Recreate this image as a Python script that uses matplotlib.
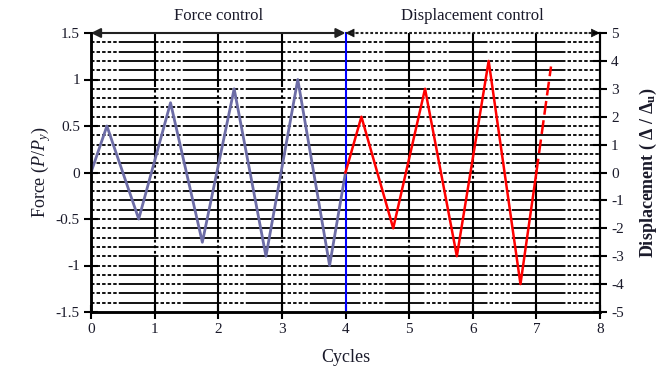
import matplotlib
matplotlib.use("Agg")
import matplotlib.pyplot as plt
import numpy as np

# ---- data ----
force_x = [0, 0.25, 0.75, 1.25, 1.75, 2.25, 2.75, 3.25, 3.75, 4.0]
force_y = [0, 0.5, -0.5, 0.75, -0.75, 0.9, -0.9, 1.0, -1.0, 0.0]
disp_x = [4.0, 4.25, 4.75, 5.25, 5.75, 6.25, 6.75, 7.0]
disp_y = [0, 2, -2, 3, -3, 4, -4, 0]
disp_dash_x = [7.0, 7.23]
disp_dash_y = [0, 3.8]
x_ticks = [0, 1, 2, 3, 4, 5, 6, 7, 8]
force_ticks = [-1.5, -1, -0.5, 0, 0.5, 1, 1.5]
force_ticklabels = ["-1.5", "-1", "-0.5", "0", "0.5", "1", "1.5"]
disp_ticks = [-5, -4, -3, -2, -1, 0, 1, 2, 3, 4, 5]

plt.rcParams['font.family'] = ['Liberation Serif', 'DejaVu Serif']
plt.rcParams['mathtext.fontset'] = 'custom'
plt.rcParams['mathtext.rm'] = 'Liberation Serif'
plt.rcParams['mathtext.it'] = 'Liberation Serif:italic'
plt.rcParams['mathtext.bf'] = 'Liberation Serif:bold'
plt.rcParams['lines.scale_dashes'] = False

fig = plt.figure(figsize=(6.63, 3.72), dpi=100)
ax = fig.add_axes([91/663, 1-312/372, (600-91)/663, (312-33)/372])
ax.set_xlim(0, 8)
ax.set_ylim(-1.5, 1.5)

txtc = '#1a1a2a'
dot = (0, (2.5, 1.5))

# horizontal grid lines (mixed solid / dotted segments)
levels = np.round(np.arange(-1.4, 1.45, 0.1), 2)
for k in range(8):
    if k < 4:
        segs = [(k, k + 0.45, dot), (k + 0.45, k + 1, '-')]
    elif k < 7:
        segs = [(k, k + 0.18, '-'), (k + 0.18, k + 0.65, dot), (k + 0.65, k + 1, '-')]
    else:
        segs = [(k, k + 0.4, '-'), (k + 0.4, k + 1, dot)]
    for a, b, ls in segs:
        ax.hlines(levels, a, b, colors='black', linewidth=1.3, linestyles=[ls], zorder=1)

# vertical grid lines
for xv in [1, 2, 3, 5, 6, 7]:
    ax.plot([xv, xv], [-1.5, 1.5], color='black', lw=1.5,
            linestyle=(0, (40, 2, 2, 2, 2, 2, 2, 2)), zorder=2, clip_on=False)

# blue separator
ax.plot([4, 4], [-1.5, 1.5], color='#0000ff', lw=1.5, zorder=3, clip_on=False)

# data lines
ax.plot(force_x, force_y, color='#6c6ca6', lw=2.0, zorder=4)
ax2 = ax.twinx()
ax2.set_ylim(-5, 5)
ax2.plot(disp_x, disp_y, color='#ff0000', lw=1.8, zorder=4)
ax2.plot(disp_dash_x, disp_dash_y, color='#ff0000', lw=1.8,
         linestyle=(0, (10, 4)), zorder=4)

# top arrows
ax.annotate('', xy=(0, 1.5), xytext=(4, 1.5), xycoords='data',
            arrowprops=dict(arrowstyle='<|-|>', color='#222222', lw=1.5,
                            mutation_scale=14, shrinkA=0, shrinkB=0),
            annotation_clip=False)
ax.plot([4, 8], [1.5, 1.5], color='#222222', lw=1.5, linestyle=(0, (2, 1.5)),
        clip_on=False, zorder=5)
ax.annotate('', xy=(8, 1.5), xytext=(7.8, 1.5),
            arrowprops=dict(arrowstyle='-|>', color='#111111', lw=0.5,
                            mutation_scale=14, shrinkA=0, shrinkB=0),
            annotation_clip=False)
ax.annotate('', xy=(4, 1.5), xytext=(4.2, 1.5),
            arrowprops=dict(arrowstyle='-|>', color='#111111', lw=0.5,
                            mutation_scale=14, shrinkA=0, shrinkB=0),
            annotation_clip=False)

ax.text(2, 1.6, 'Force control', ha='center', va='bottom', fontsize=12, color=txtc)
ax.text(6, 1.6, 'Displacement control', ha='center', va='bottom', fontsize=12, color=txtc)

# spines & ticks
for a in (ax, ax2):
    a.spines['top'].set_visible(False)
    a.spines['left'].set_linewidth(1.8)
    a.spines['bottom'].set_linewidth(1.8)
    a.spines['right'].set_linewidth(1.5)
ax.set_xticks(x_ticks)
ax.set_xticklabels([str(v) for v in x_ticks])
ax.set_yticks(force_ticks)
ax.set_yticklabels(force_ticklabels)
ax.tick_params(axis='both', direction='inout', length=10, width=1.5,
               labelsize=11, labelcolor=txtc, pad=3)
ax2.set_yticks(disp_ticks)
ax2.set_yticklabels([str(v) for v in disp_ticks])
ax2.tick_params(axis='y', direction='inout', length=10, width=1.5,
                labelsize=11, labelcolor=txtc, pad=3)

ax.set_xlabel('Cycles', fontsize=13, color=txtc, labelpad=9)
ax.set_ylabel(r'Force ($\mathit{P/P}_{y}$)', fontsize=13, color=txtc, labelpad=2)
ax2.set_ylabel(r'Displacement ( Δ / Δ$_{\mathbf{u}}$)', fontsize=13, color=txtc,
               fontweight='bold', rotation=90, labelpad=10)

fig.savefig('out.png', dpi=100)
